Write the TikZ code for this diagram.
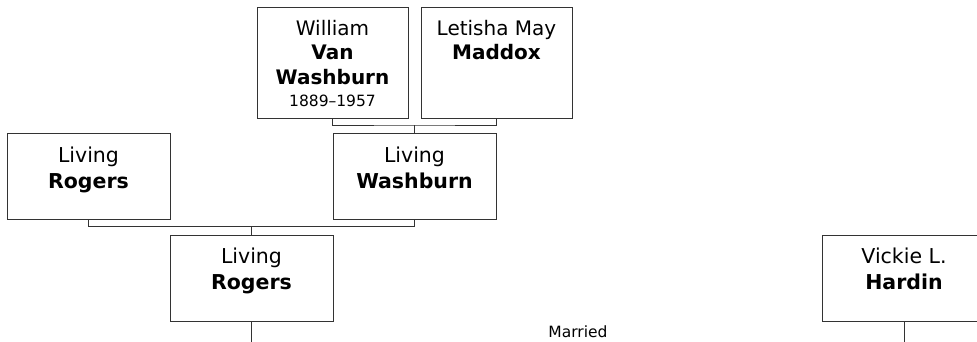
\documentclass[tikz,border=0pt]{standalone}
\usepackage{fontspec}
\setmainfont{DejaVu Sans}
\usetikzlibrary{positioning, calc}
\definecolor{treeline}{RGB}{51,51,51}

\begin{document}
\begin{tikzpicture}[x=1pt, y=-1pt,
  person/.style={draw=treeline, line width=1pt, minimum width=163pt, minimum height=86pt, inner sep=0pt},
  elder/.style={person, minimum width=151pt, minimum height=111pt},
  nametext/.style={anchor=north, inner sep=0pt, yshift=-13.5pt, align=center, font=\fontsize{20.5}{26}\selectfont},
  eldertext/.style={nametext, font=\fontsize{20}{24.5}\selectfont},
  small/.style={font=\fontsize{15.5}{19}\selectfont},
  link/.style={draw=treeline, line width=1pt}]
\useasboundingbox (0,0) rectangle (977,341);
\clip (0,0) rectangle (977,341);
% grandparents
\node[elder, label={[eldertext]north:{William\\\textbf{Van}\\\textbf{Washburn}\\[-2.5pt]{\fontsize{15.5}{19}\selectfont 1889–1957}}}] (william) at (332.5,62.5) {};
\node[elder, label={[eldertext]north:{Letisha May\\\textbf{Maddox}}}] (letisha) at (496.5,62.5) {};
% parents
\node[person, label={[nametext]north:{Living\\\textbf{Rogers}}}] (rogersA) at (88.5,176.5) {};
\node[person, label={[nametext]north:{Living\\\textbf{Washburn}}}] (washburn) at (414.5,176.5) {};
% couple
\node[person, label={[nametext]north:{Living\\\textbf{Rogers}}}] (rogersB) at (251.5,278) {};
\node[person, label={[nametext]north:{Vickie L.\\\textbf{Hardin}}}] (hardin) at (904,278) {};
\node[small, inner sep=0pt] (married) at (578,332) {Married};
% links
\coordinate (topbar) at ($(washburn.north)+(0,-8)$);
\draw[link] (william.south) |- (topbar) -| (letisha.south);
\draw[link] (topbar) -- (washburn.north);
\coordinate (midbar) at ($(rogersB.north)+(0,-8)$);
\draw[link] (rogersA.south) |- (midbar) -| (washburn.south);
\draw[link] (midbar) -- (rogersB.north);
\draw[link] (rogersB.south) -- ++(0,25) coordinate (rogersBend);
\draw[link] (hardin.south) -- ++(0,25) coordinate (hardinend);
\end{tikzpicture}
\end{document}
